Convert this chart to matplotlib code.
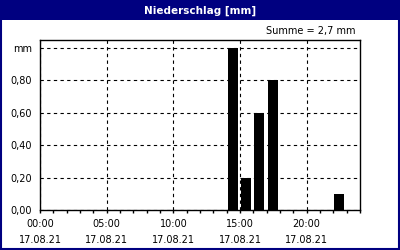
import matplotlib
matplotlib.use("Agg")
import matplotlib.pyplot as plt
from matplotlib.patches import Rectangle
from matplotlib.ticker import MultipleLocator, FixedLocator

# hourly precipitation, 17.08.21
hours = [14, 15, 16, 17, 22]
precip = [1.0, 0.2, 0.6, 0.8, 0.1]
xtick_hours = [0, 5, 10, 15, 20]
xtick_labels = ["00:00\n17.08.21", "05:00\n17.08.21", "10:00\n17.08.21",
                "15:00\n17.08.21", "20:00\n17.08.21"]
ytick_vals = [0.0, 0.2, 0.4, 0.6, 0.8, 1.0]
ytick_labels = ["0,00", "0,20", "0,40", "0,60", "0,80", "mm"]
title = "Niederschlag [mm]"
summe = "Summe = 2,7 mm"

navy = "#000080"
fs = 7

fig = plt.figure(figsize=(4, 2.5), dpi=100)
fig.patch.set_facecolor("white")

# title bar + frame
fig.patches.append(Rectangle((0, 1 - 20 / 250), 1, 20 / 250, transform=fig.transFigure,
                             facecolor=navy, edgecolor="none", zorder=0))
fig.patches.append(Rectangle((0.002, 0.004), 0.996, 0.994, transform=fig.transFigure,
                             facecolor="none", edgecolor=navy, linewidth=1.5, zorder=5))
fig.text(0.5, 1 - 10.5 / 250, title, color="white", fontsize=7.5, fontweight="bold",
         ha="center", va="center")
fig.text(355 / 400, 1 - 31 / 250, summe, fontsize=fs, ha="right", va="center")

ax = fig.add_axes([0.1, 0.16, 0.8, 0.68])
ax.bar([h + 0.07 for h in hours], precip, width=0.75, align="edge", color="black", zorder=3)

ax.set_xlim(0, 24)
ax.set_ylim(0, 1.05)
ax.xaxis.set_major_locator(FixedLocator(xtick_hours))
ax.set_xticklabels(xtick_labels, fontsize=fs)
ax.xaxis.set_minor_locator(MultipleLocator(1))
ax.set_yticks(ytick_vals)
ax.set_yticklabels(ytick_labels, fontsize=fs)
for lbl in ax.get_xticklabels():
    lbl.set_linespacing(1.75)

ax.tick_params(axis="x", which="both", direction="out", length=2.5, width=1, pad=4)
ax.tick_params(axis="y", length=0, pad=6)
ax.grid(True, which="major", color="black", linestyle=(0, (3, 3)), linewidth=0.8, zorder=1)
for sp in ax.spines.values():
    sp.set_linewidth(1)
    sp.set_color("black")

fig.savefig("out.png", dpi=100)
